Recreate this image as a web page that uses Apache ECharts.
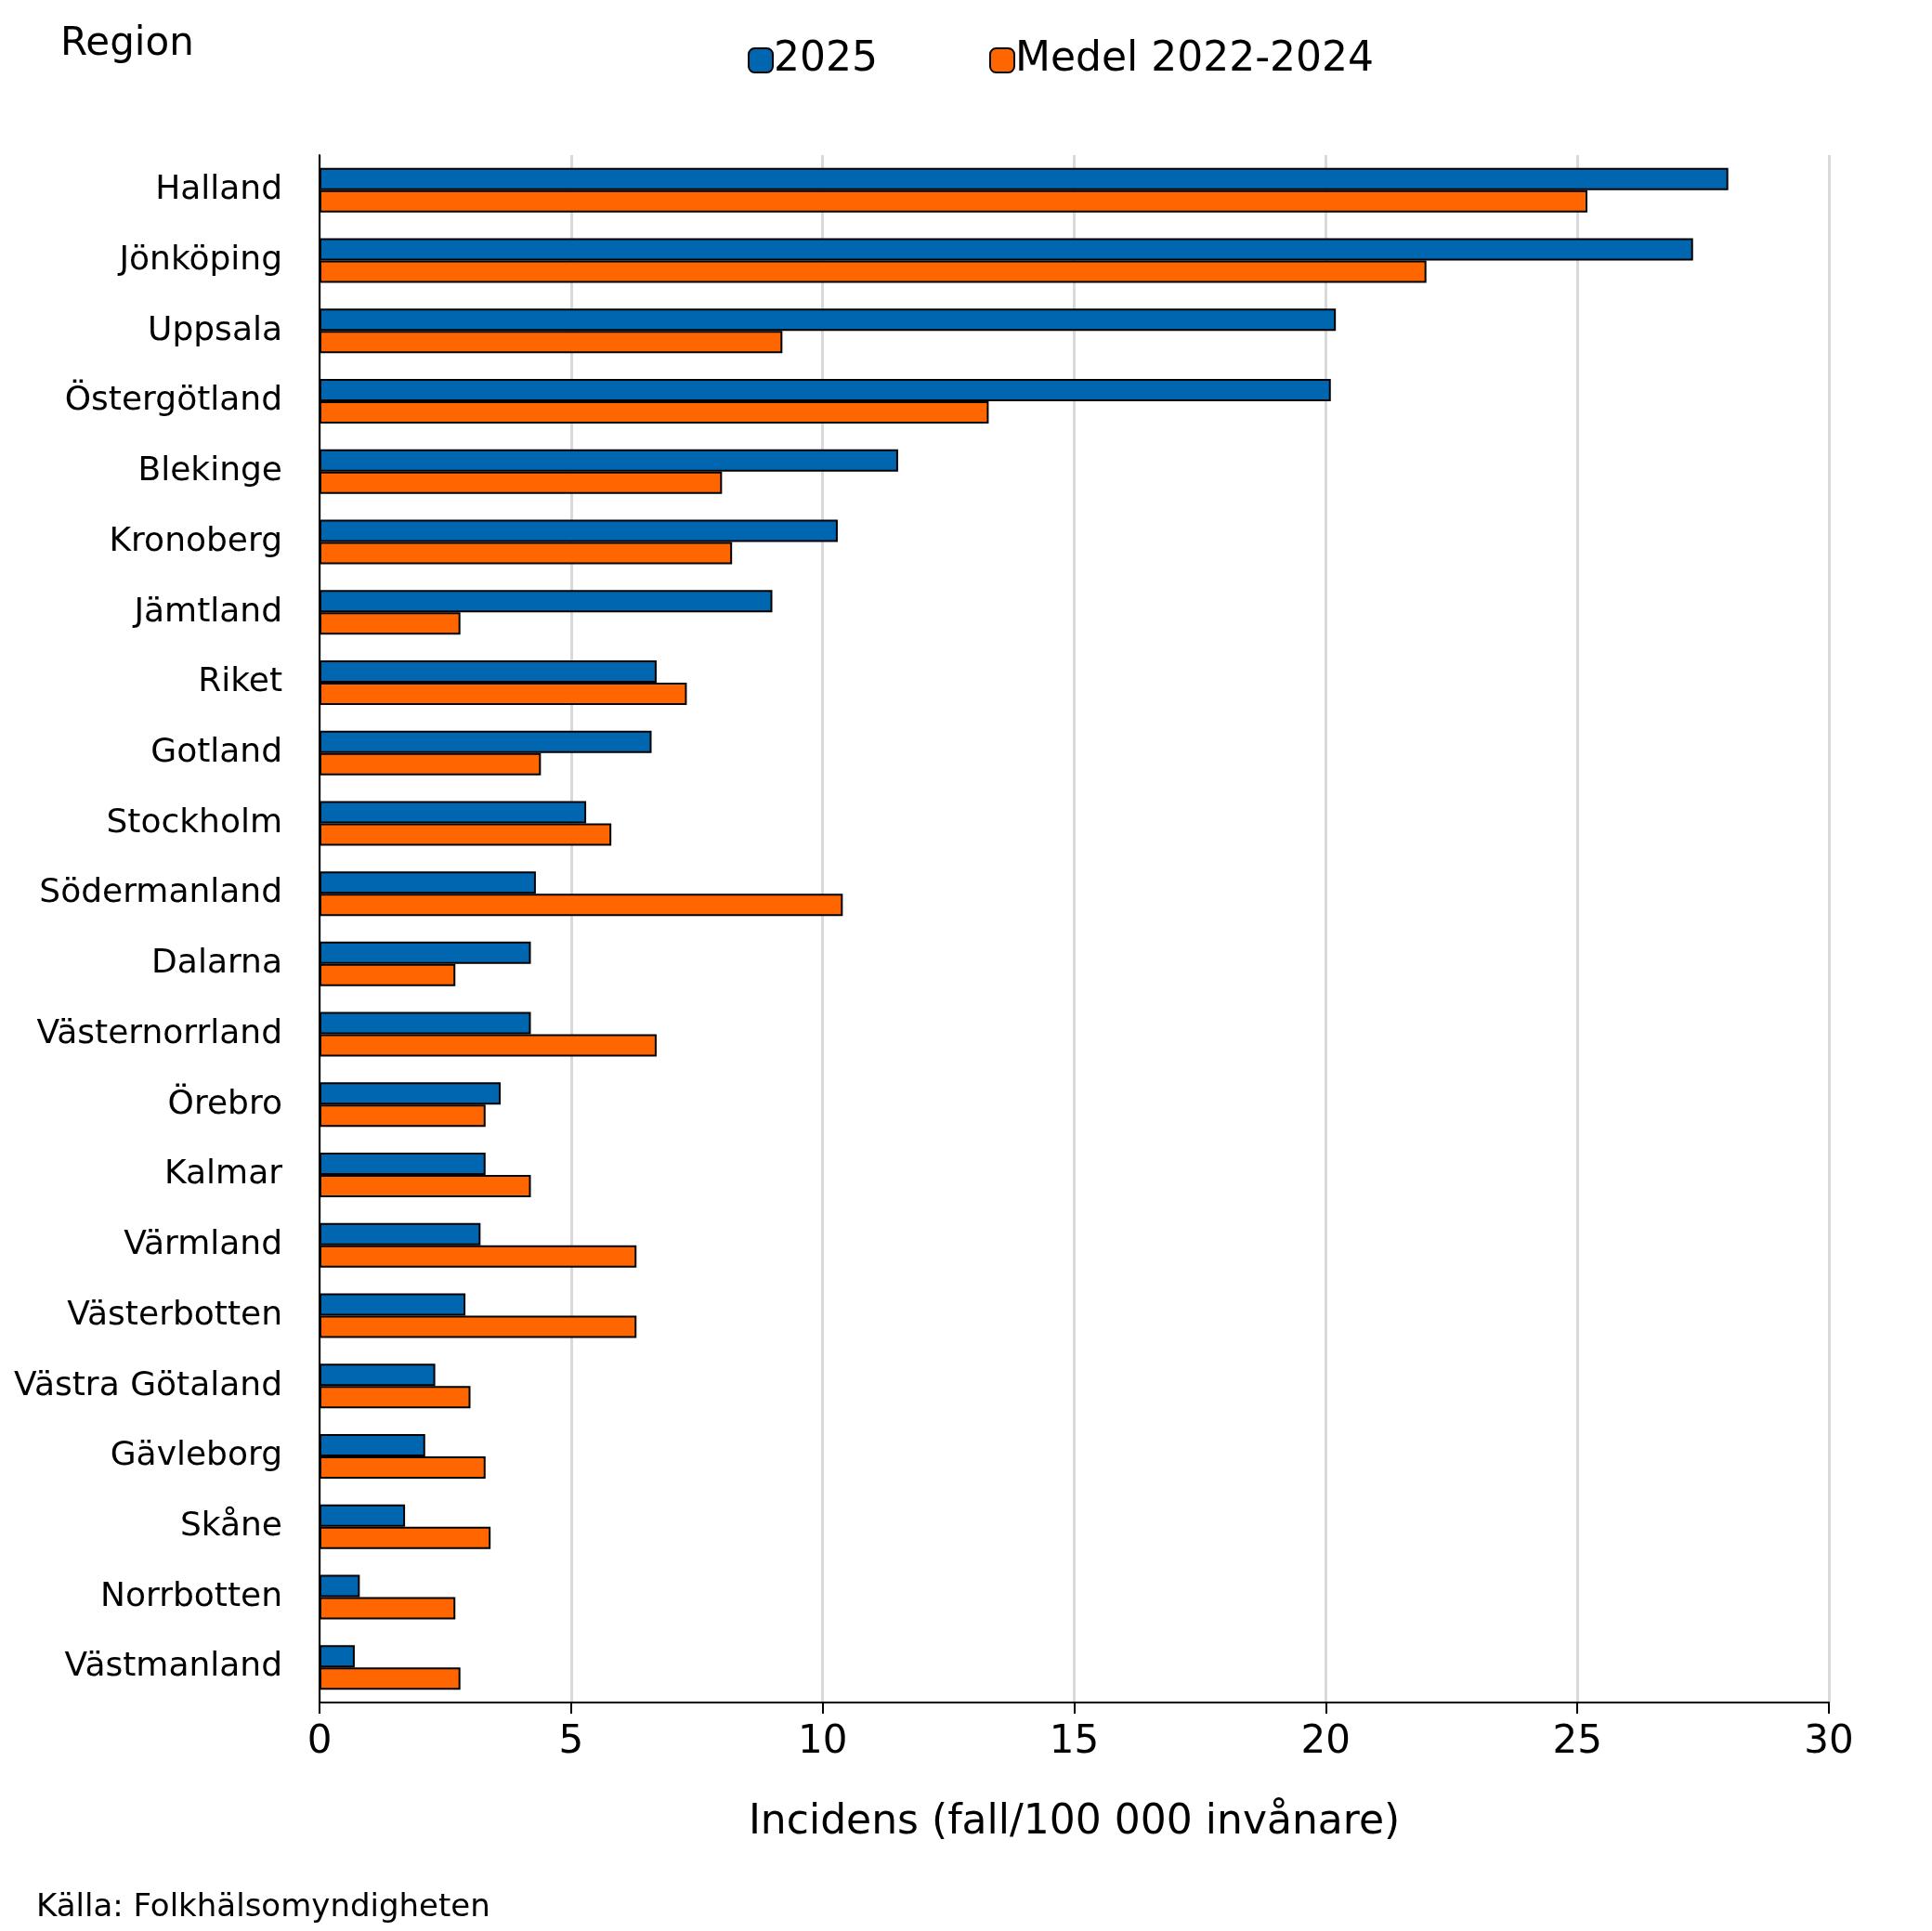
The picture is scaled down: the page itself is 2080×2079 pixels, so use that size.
<!DOCTYPE html>
<html>
<head>
<meta charset="utf-8">
<script src="https://cdn.jsdelivr.net/npm/echarts@6/dist/echarts.min.js"></script>
<style>
  html, body { margin: 0; padding: 0; background: #fff; }
  #chart { width: 2080px; height: 2079px; }
</style>
</head>
<body>
<div id="chart"></div>
<script>
// regioner, sorterade efter 2025
var regions = ['Halland', 'Jönköping', 'Uppsala', 'Östergötland', 'Blekinge', 'Kronoberg',
  'Jämtland', 'Riket', 'Gotland', 'Stockholm', 'Södermanland', 'Dalarna', 'Västernorrland',
  'Örebro', 'Kalmar', 'Värmland', 'Västerbotten', 'Västra Götaland', 'Gävleborg', 'Skåne',
  'Norrbotten', 'Västmanland'];
var values2025 = [28.0, 27.3, 20.2, 20.1, 11.5, 10.3, 9.0, 6.7, 6.6, 5.3, 4.3, 4.2, 4.2,
  3.6, 3.3, 3.2, 2.9, 2.3, 2.1, 1.7, 0.8, 0.7];
var valuesMedel = [25.2, 22.0, 9.2, 13.3, 8.0, 8.2, 2.8, 7.3, 4.4, 5.8, 10.4, 2.7, 6.7,
  3.3, 4.2, 6.3, 6.3, 3.0, 3.3, 3.4, 2.7, 2.8];
var seriesNames = ['2025', 'Medel 2022-2024'];

var font = 'DejaVu Sans';
var chart = echarts.init(document.getElementById('chart'));

chart.setOption({
  animation: false,
  textStyle: { fontFamily: font, color: '#000' },
  color: ['#0066B0', '#FF6600'],
  title: [
    { text: 'Region', left: 60, top: 22, textStyle: { fontFamily: font, fontSize: 42, fontWeight: 'normal', color: '#000' } },
    { text: 'Källa: Folkhälsomyndigheten', left: 34, top: 2032, textStyle: { fontFamily: font, fontSize: 34, fontWeight: 'normal', color: '#000' } }
  ],
  legend: {
    top: 38,
    left: 800,
    itemWidth: 26,
    itemHeight: 26,
    itemGap: 120,
    data: seriesNames,
    textStyle: { fontFamily: font, fontSize: 44, color: '#000', padding: [0, 0, 0, -4] },
    itemStyle: { borderColor: '#000', borderWidth: 2 }
  },
  grid: { left: 344, right: 111, top: 167, bottom: 246 },
  xAxis: {
    type: 'value',
    min: 0,
    max: 30,
    interval: 5,
    name: 'Incidens (fall/100 000 invånare)',
    nameLocation: 'middle',
    nameGap: 108,
    nameTextStyle: { fontFamily: font, fontSize: 44, color: '#000' },
    axisLine: { show: true, lineStyle: { color: '#000', width: 2 } },
    axisTick: { show: true, length: 12, lineStyle: { color: '#000', width: 2 } },
    axisLabel: { fontSize: 42, color: '#000', margin: 22 },
    splitLine: { show: true, lineStyle: { color: '#d9d9d9', width: 3 } }
  },
  yAxis: {
    type: 'category',
    inverse: true,
    data: regions,
    axisLine: { show: true, lineStyle: { color: '#000', width: 2 } },
    axisTick: { show: false },
    axisLabel: { fontSize: 36, color: '#000', margin: 40 }
  },
  series: [
    {
      name: seriesNames[0], type: 'bar', data: values2025,
      barWidth: 24, barGap: '0%',
      itemStyle: { borderColor: '#000', borderWidth: 2 }
    },
    {
      name: seriesNames[1], type: 'bar', data: valuesMedel,
      barWidth: 24,
      itemStyle: { borderColor: '#000', borderWidth: 2 }
    }
  ]
});
</script>
</body>
</html>
